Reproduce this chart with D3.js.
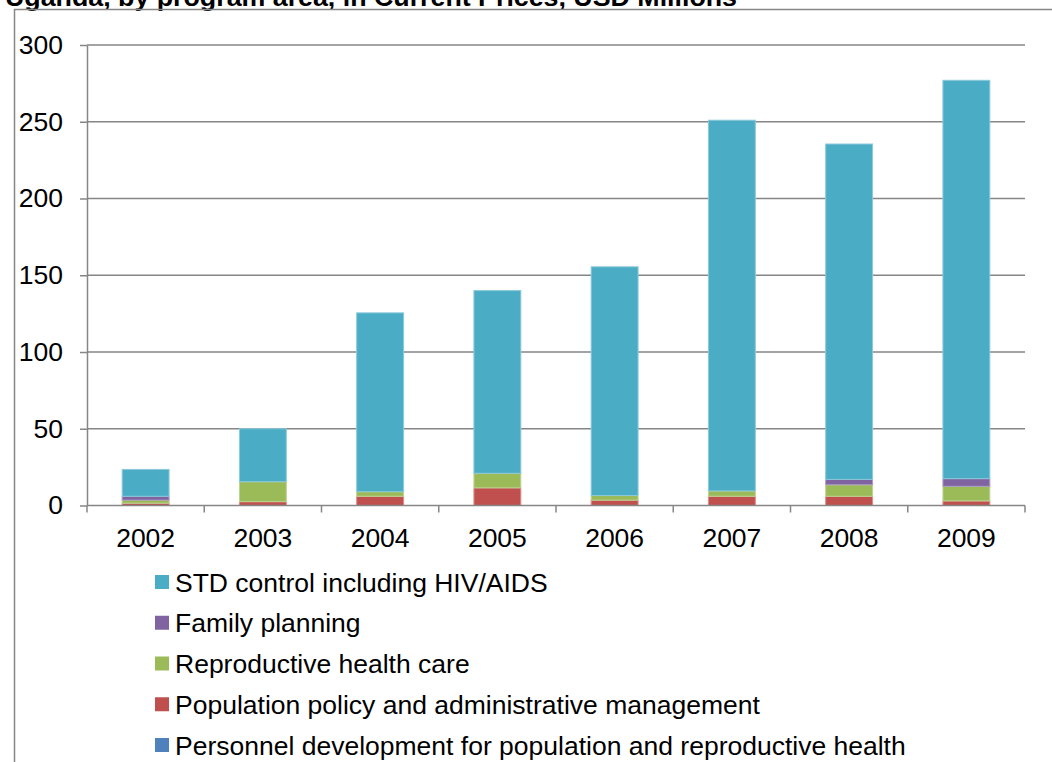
<!DOCTYPE html>
<html>
<head>
<meta charset="utf-8">
<script src="https://cdn.jsdelivr.net/npm/d3@7"></script>
<style>
  html, body { margin: 0; padding: 0; background: #fff; }
  svg { display: block; font-family: "Liberation Sans", Arial, sans-serif; }
</style>
</head>
<body>
<svg id="chart" width="1052" height="762"></svg>
<script>
// Years on the category axis
const years = ["2002", "2003", "2004", "2005", "2006", "2007", "2008", "2009"];

// Spending by program area, USD millions (stack order: bottom to top)
const personnelDevelopment = [0, 0, 0, 0, 0, 0, 0, 0];
const populationPolicy     = [1.5, 2.5, 6, 11.5, 3.5, 6, 6, 3];
const reproductiveHealth   = [2, 13, 3, 9.5, 3, 3.5, 7.5, 9.5];
const familyPlanning       = [2.5, 0, 0, 0, 0, 0, 3.5, 5];
const stdControl           = [17.5, 34.5, 116.5, 119, 149, 241.5, 218.5, 259.5];

const yTicks = [0, 50, 100, 150, 200, 250, 300];

const series = [
  { name: "Personnel development for population and reproductive health", values: personnelDevelopment, color: "#4F81BD" },
  { name: "Population policy and administrative management", values: populationPolicy, color: "#C0504D" },
  { name: "Reproductive health care", values: reproductiveHealth, color: "#9BBB59" },
  { name: "Family planning", values: familyPlanning, color: "#8064A2" },
  { name: "STD control including HIV/AIDS", values: stdControl, color: "#4BACC6" }
];

const svg = d3.select("#chart");
const fontSize = 26.5;
const gridColor = "#868686";

// Title (sits mostly above the top edge of the page)
svg.append("text")
  .attr("x", 5).attr("y", 6)
  .attr("font-size", 26.5).attr("font-weight", "bold").attr("fill", "#000")
  .attr("textLength", 732).attr("lengthAdjust", "spacingAndGlyphs")
  .text("Uganda, by program area, in Current Prices, USD Millions");

// Outer chart frame
svg.append("path")
  .attr("d", "M14.5,762 V9.5 H1060")
  .attr("fill", "none").attr("stroke", gridColor).attr("stroke-width", 1.5);

const plot = { left: 87, right: 1025, top: 45, bottom: 505.5 };

const x = d3.scaleBand().domain(years)
  .range([plot.left, plot.right]).paddingInner(0.6).paddingOuter(0.3);
const y = d3.scaleLinear().domain([0, 300]).range([plot.bottom, plot.top]);

// Horizontal gridlines
svg.append("g").selectAll("line").data(yTicks.filter(d => d > 0)).join("line")
  .attr("x1", plot.left).attr("x2", plot.right)
  .attr("y1", d => y(d)).attr("y2", d => y(d))
  .attr("stroke", gridColor).attr("stroke-width", 1.5);

// Stacked bars
const table = years.map((yr, i) => {
  const row = { year: yr };
  series.forEach(s => { row[s.name] = s.values[i]; });
  return row;
});
const stacked = d3.stack().keys(series.map(s => s.name))(table);

svg.append("g").selectAll("g").data(stacked).join("g")
  .attr("fill", (d, i) => series[i].color)
  .attr("stroke", (d, i) => d3.interpolateRgb(series[i].color, "#fff")(0.35))
  .attr("stroke-width", 1)
  .selectAll("rect").data(d => d.filter(p => p[1] - p[0] > 0)).join("rect")
  .attr("x", d => x(d.data.year))
  .attr("width", x.bandwidth())
  .attr("y", d => y(d[1]))
  .attr("height", d => y(d[0]) - y(d[1]));

// Y axis
const yAxis = svg.append("g")
  .attr("transform", `translate(${plot.left},0)`)
  .call(d3.axisLeft(y).tickValues(yTicks).tickSize(7).tickPadding(17).tickSizeOuter(0));
yAxis.select(".domain").attr("stroke", gridColor).attr("stroke-width", 1.5);
yAxis.selectAll(".tick line").attr("stroke", gridColor).attr("stroke-width", 1.5);
yAxis.selectAll(".tick text").attr("font-size", fontSize).attr("fill", "#000")
  .attr("font-family", "Liberation Sans, Arial, sans-serif");

// X axis with ticks between categories
svg.append("line")
  .attr("x1", plot.left).attr("x2", plot.right)
  .attr("y1", plot.bottom).attr("y2", plot.bottom)
  .attr("stroke", gridColor).attr("stroke-width", 1.5);
const step = x.step();
const boundaries = d3.range(years.length + 1).map(i => plot.left + i * step);
svg.append("g").selectAll("line").data(boundaries).join("line")
  .attr("x1", d => d).attr("x2", d => d)
  .attr("y1", plot.bottom).attr("y2", plot.bottom + 7)
  .attr("stroke", gridColor).attr("stroke-width", 1.5);
svg.append("g").selectAll("text").data(years).join("text")
  .attr("x", d => x(d) + x.bandwidth() / 2)
  .attr("y", 547)
  .attr("text-anchor", "middle")
  .attr("font-size", fontSize).attr("fill", "#000")
  .text(d => d);

// Legend (top to bottom: reverse of stack order)
const legendItems = series.slice().reverse();
const legend = svg.append("g").selectAll("g").data(legendItems).join("g")
  .attr("transform", (d, i) => `translate(155,${582 + i * 40.75})`);
legend.append("rect")
  .attr("x", 0).attr("y", -7).attr("width", 14).attr("height", 14)
  .attr("fill", d => d.color);
legend.append("text")
  .attr("x", 20).attr("y", 9.5)
  .attr("font-size", fontSize).attr("fill", "#000")
  .text(d => d.name);
</script>
</body>
</html>
